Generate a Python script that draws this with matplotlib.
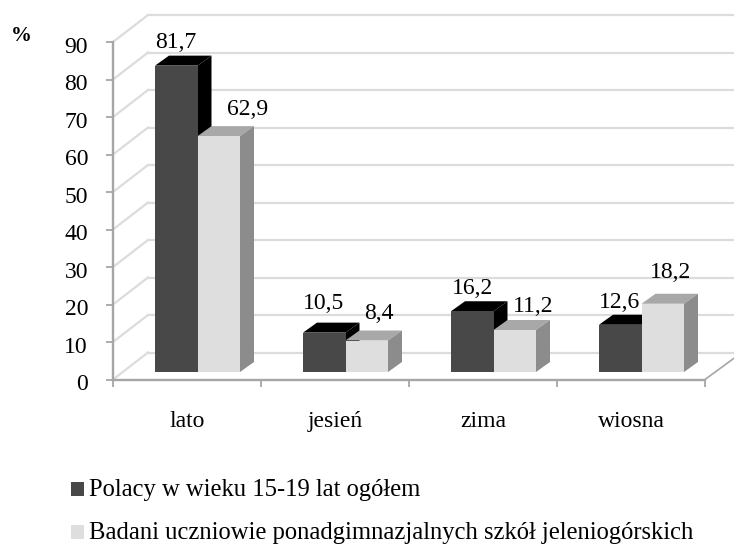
import matplotlib
matplotlib.use('Agg')
import matplotlib.pyplot as plt
from matplotlib.patches import Polygon, Rectangle
from matplotlib.transforms import ScaledTranslation

plt.rcParams['font.family'] = ['Liberation Serif', 'DejaVu Serif']

sezony = ['lato', 'jesień', 'zima', 'wiosna']
polacy = [81.7, 10.5, 16.2, 12.6]
badani = [62.9, 8.4, 11.2, 18.2]
nazwa_polacy = 'Polacy w wieku 15-19 lat ogółem'
nazwa_badani = 'Badani uczniowie ponadgimnazjalnych szkół jeleniogórskich'
ticks_y = list(range(0, 100, 10))

# przesuniecia etykiet wzgledem srodka i wierzcholka slupka (px)
etyk_polacy = [(-1, 23), (-1, 29), (0, 23), (-1, 22)]
etyk_badani = [(29, 27), (12, 27), (18, 23), (8, 31)]

W, H = 734, 545
L, R, Y0, Y90 = 113, 705, 379.5, 42
PX = 4 / (R - L)             # jednostki x na piksel
PY = 90 / (Y0 - Y90)         # jednostki y na piksel
ROZMIAR = 17

fig = plt.figure(figsize=(W / 100, H / 100), dpi=100)
ax = fig.add_axes([L / W, 1 - Y0 / H, (R - L) / W, (Y0 - Y90) / H])
ax.set_xlim(0, 4)
ax.set_ylim(0, 90)
ax.patch.set_visible(False)

# sciana tylna i boczna
sx, sy = 35 * PX, 27 * PY
for v in ticks_y:
    ax.plot([0, sx], [v, v + sy], color='#dcdcdc', lw=1.6, clip_on=False, zorder=1)
    ax.plot([sx, 4.2], [v + sy, v + sy], color='#dcdcdc', lw=1.6, clip_on=False, zorder=1)
ax.plot([4, 4 + 30 * PX], [0, 22 * PY], color='#a6a6a6', lw=1.2, clip_on=False, zorder=2)


def slupek(x, v, kolor, gora, bok):
    szer = 42.5 * PX
    y0 = 7.5 * PY
    y1 = y0 + v
    dx, dy = 14 * PX, 10 * PY
    ax.add_patch(Polygon([(x, y1), (x + szer, y1), (x + szer + dx, y1 + dy), (x + dx, y1 + dy)],
                         fc=gora, ec='none', clip_on=False, zorder=3))
    ax.add_patch(Polygon([(x + szer, y0), (x + szer + dx, y0 + dy), (x + szer + dx, y1 + dy), (x + szer, y1)],
                         fc=bok, ec='none', clip_on=False, zorder=3))
    ax.add_patch(Rectangle((x, y0), szer, v, fc=kolor, ec='none', clip_on=False, zorder=4))
    return x + szer / 2, y1


def etykieta(xy, v, off):
    tekst = f'{v:.1f}'.replace('.', ',')
    ax.annotate(tekst, xy, xytext=(off[0] * 0.72, off[1] * 0.72), textcoords='offset points',
                ha='center', va='center', fontsize=ROZMIAR, color='black', zorder=6)


for i in range(len(sezony)):
    x = i + 42 * PX
    xy_a = slupek(x, polacy[i], '#484848', 'black', 'black')
    xy_b = slupek(x + 42.5 * PX, badani[i], '#dedede', '#a8a8a8', '#8c8c8c')
    etykieta(xy_a, polacy[i], etyk_polacy[i])
    etykieta(xy_b, badani[i], etyk_badani[i])

# osie
for s in ['top', 'right']:
    ax.spines[s].set_visible(False)
for s in ['left', 'bottom']:
    ax.spines[s].set_color('#a6a6a6')
    ax.spines[s].set_linewidth(1.7)
ax.set_yticks(ticks_y)
ax.tick_params(axis='y', color='#a6a6a6', length=5, width=1.3, labelsize=ROZMIAR, pad=13)
for lab in ax.get_yticklabels():
    lab.set_transform(lab.get_transform() + ScaledTranslation(0, -2 / 72, fig.dpi_scale_trans))
ax.set_xticks(range(5))
ax.set_xticklabels([])
ax.set_xticks([i + 0.5 for i in range(4)], sezony, minor=True)
ax.tick_params(axis='x', which='major', color='#a6a6a6', length=5, width=1.3)
ax.tick_params(axis='x', which='minor', length=0, labelsize=ROZMIAR, pad=23)

fig.text(21 / W, 1 - 36 / H, '%', fontsize=15, fontweight='bold', ha='center', va='center')

# legenda
for yc, kolor, nazwa in [(489, '#484848', nazwa_polacy), (532, '#dedede', nazwa_badani)]:
    fig.add_artist(Rectangle((71 / W, 1 - (yc + 7) / H), 13 / W, 14 / H, fc=kolor, ec='none',
                             transform=fig.transFigure))
    fig.text(89 / W, 1 - (yc + 1) / H, nazwa, fontsize=17.7, ha='left', va='center')

fig.savefig('out.png', dpi=100, facecolor='white')
